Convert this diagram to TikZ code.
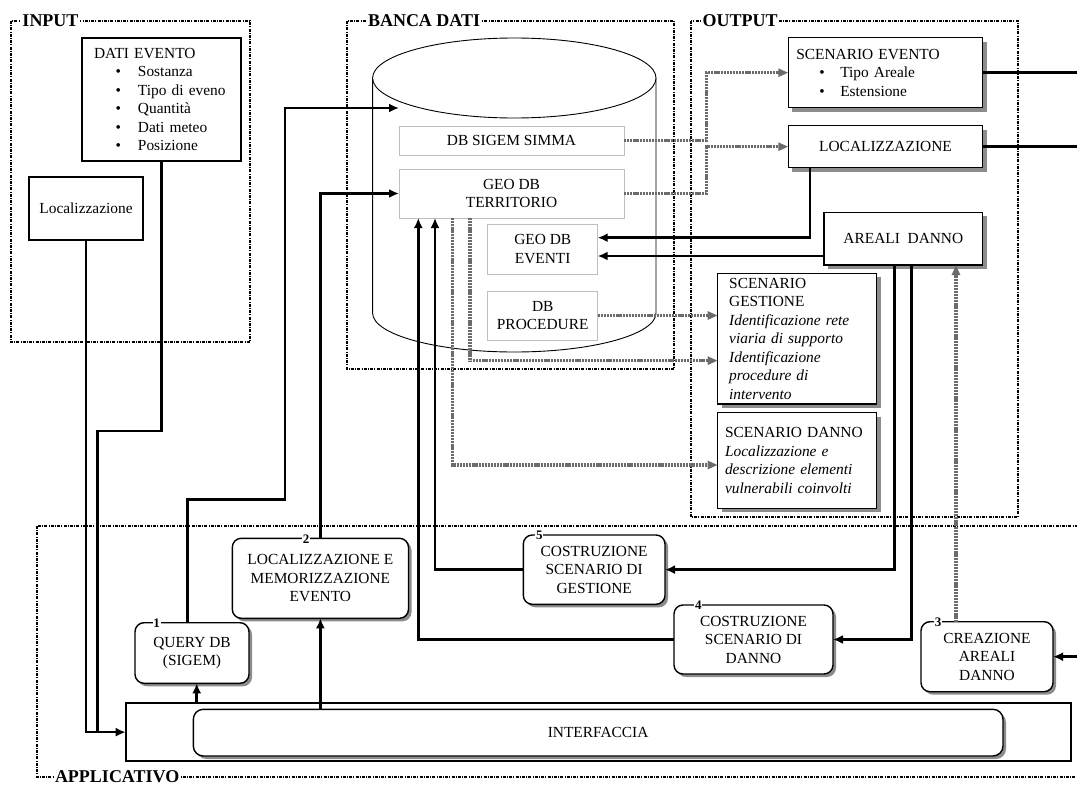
\documentclass[tikz,border=0pt]{standalone}
\usepackage{fontspec}
\setmainfont{Liberation Serif}
\usetikzlibrary{arrows.meta,shadows}
\begin{document}
\begin{tikzpicture}[x=1pt,y=-1pt,
  font=\fontsize{15.4}{18.5}\selectfont,
  every node/.style={outer sep=0pt},
  grp/.style={draw, line width=1.3pt, dash pattern=on 3pt off 1.2pt on 1pt off 1.2pt},
  gtitle/.style={fill=white, font=\fontsize{18}{20}\selectfont\bfseries, inner sep=1.5pt, anchor=west},
  plainbox/.style={draw, line width=1.2pt, fill=white},
  outbox/.style={draw, line width=1.4pt, fill=white, inner ysep=2pt,
    drop shadow={shadow xshift=4pt, shadow yshift=-4pt, fill=black!45, opacity=1}},
  dbbox/.style={draw=black!25, line width=0.9pt, fill=white, align=center},
  procbox/.style={draw, line width=1.4pt, fill=white, rounded corners=9pt, align=center,
    drop shadow={shadow xshift=3pt, shadow yshift=-3pt, fill=black!45, opacity=1}},
  num/.style={fill=white, font=\fontsize{13}{13}\selectfont\bfseries, inner sep=0.8pt},
  conn/.style={line width=2.6pt, -{Latex[length=10pt,width=9pt]}},
  wire/.style={line width=2.6pt},
  dotarrow/.style={draw=black!58, line width=3.2pt, dash pattern=on 2.2pt off 0.9pt,
    -{Triangle[length=10pt,width=8pt]}}
]
\useasboundingbox (0,0) rectangle (1077,787);
\clip (0,0) rectangle (1077,787);

% group frames
\draw[grp] (11,21) rectangle (250,342);
\draw[grp] (347,21) rectangle (674,369);
\draw[grp] (691,21) rectangle (1018,517);
\draw[grp] (37,526) rectangle (1100,777);

% cylinder
\draw[line width=0.9pt, fill=white] (372.6,78) -- (372.6,313)
  arc[start angle=180, end angle=0, x radius=141.7, y radius=39] -- (656,78);
\draw[line width=0.9pt, fill=white] (514.3,78) ellipse [x radius=141.7, y radius=40];
\coordinate (cyl) at (399,108);

% INPUT
\node[plainbox, text width=135pt, inner xsep=12pt, minimum height=123pt, align=left] (dati) at (161.5,99.5)
 {DATI EVENTO\\
  \hspace*{21.5pt}\makebox[22.5pt][l]{\textbullet}Sostanza\\
  \hspace*{21.5pt}\makebox[22.5pt][l]{\textbullet}Tipo di eveno\\
  \hspace*{21.5pt}\makebox[22.5pt][l]{\textbullet}Quantità\\
  \hspace*{21.5pt}\makebox[22.5pt][l]{\textbullet}Dati meteo\\
  \hspace*{21.5pt}\makebox[22.5pt][l]{\textbullet}Posizione};
\node[plainbox, minimum width=114pt, minimum height=63pt] (locin) at (86,208.5) {Localizzazione};

% BANCA DATI
\node[dbbox, minimum width=225pt, minimum height=29pt] (sigem) at (511.5,140.5) {DB SIGEM SIMMA};
\node[dbbox, minimum width=225pt, minimum height=49pt] (geoterr) at (511.5,193.5) {GEO DB\\TERRITORIO};
\node[dbbox, minimum width=110pt, minimum height=50pt] (geoev) at (542.7,249.2) {GEO DB\\EVENTI};
\node[dbbox, minimum width=110pt, minimum height=49pt] (dbproc) at (542.7,315.5) {DB\\PROCEDURE};

% OUTPUT
\node[outbox, text width=178.4pt, inner xsep=8pt, minimum height=70pt, align=left] (scev) at (885.5,72.7)
 {SCENARIO EVENTO\\
  \hspace*{23pt}\makebox[21pt][l]{\textbullet}Tipo Areale\\
  \hspace*{23pt}\makebox[21pt][l]{\textbullet}Estensione};
\node[outbox, minimum width=194.4pt, minimum height=42pt] (oloc) at (885.5,146.7) {LOCALIZZAZIONE};
\node[outbox, minimum width=158.7pt, minimum height=52.7pt] (areali) at (903.35,238.65) {AREALI\ \ DANNO};
\node[outbox, text width=136pt, inner xsep=11.5pt, minimum height=130.7pt, align=left] (scgest) at (797.2,338.65)
 {SCENARIO\\GESTIONE\\\textit{Identificazione rete}\\\textit{viaria di supporto}\\\textit{Identificazione}\\\textit{procedure di}\\\textit{intervento}};
\node[outbox, text width=144.4pt, inner xsep=7.3pt, minimum height=95.6pt, align=left] (scdanno) at (797.2,460.5)
 {SCENARIO DANNO\\\textit{Localizzazione e}\\\textit{descrizione elementi}\\\textit{vulnerabili coinvolti}};

% APPLICATIVO
\node[procbox, minimum width=114pt, minimum height=60.6pt] (q1) at (192,653) {QUERY DB\\(SIGEM)};
\node[procbox, minimum width=176.2pt, minimum height=80pt] (loc2) at (320.4,578.3) {LOCALIZZAZIONE E\\MEMORIZZAZIONE\\EVENTO};
\node[procbox, minimum width=141.7pt, minimum height=69.3pt] (c5) at (594.15,569.65) {COSTRUZIONE\\SCENARIO DI\\GESTIONE};
\node[procbox, minimum width=159pt, minimum height=69pt] (c4) at (753.5,639.5) {COSTRUZIONE\\SCENARIO DI\\DANNO};
\node[procbox, minimum width=132pt, minimum height=70pt] (c3) at (987,656.7) {CREAZIONE\\AREALI\\DANNO};
\node[draw, line width=1.8pt, fill=white, minimum width=945.3pt, minimum height=57.7pt] (intout) at (598.35,732.15) {};
\node[procbox, rounded corners=10pt, minimum width=809.7pt, minimum height=46.7pt] (intin) at (598.15,732.65) {INTERFACCIA};

\node[num] (n1) at (156.7,623.5) {1};
\node[num] (n2) at (306,539) {2};
\node[num] (n5) at (539.3,535.7) {5};
\node[num] (n4) at (698.3,605.7) {4};
\node[num] (n3) at (938,622.4) {3};

% titles
\node[gtitle] (tin) at (21,21) {INPUT};
\node[gtitle] (tbd) at (366.5,21) {BANCA DATI};
\node[gtitle] (tout) at (701,21) {OUTPUT};
\node[gtitle] (tapp) at (53.5,777) {APPLICATIVO};

% black connectors
\coordinate (j1) at (97.5,732.15);
\draw[conn] (locin.south) |- (intout.west);
\draw[wire] (dati.south) |- (97.5,431) -- (j1);
\draw[conn] ([xshift=-4.3pt]q1.north) |- (285,499.3) |- (cyl);
\draw[conn] (loc2.north) |- (geoterr.west);
\coordinate (a1) at (196.7,703.3);
\draw[conn] (a1) -- (a1 |- q1.south);
\draw[conn] (intin.north -| loc2.south) -- (loc2.south);
\draw[conn] (c5.west) -| ([xshift=-76.5pt]geoterr.south);
\draw[conn] (c4.west) -| ([xshift=-93.2pt]geoterr.south);
\draw[conn] ([xshift=-9pt]areali.south) |- (c5.east);
\draw[conn] ([xshift=8.4pt]areali.south) |- (c4.east);
\draw[conn] ([xshift=-75.5pt]oloc.south) |- ([yshift=11.5pt]geoev.east);
\draw[conn] ([yshift=-17.35pt]areali.west) -- ([yshift=-6.8pt]geoev.east);
\coordinate (e1) at (1090,72.7);
\coordinate (e2) at (1090,146.7);
\coordinate (e3) at (1090,656.7);
\draw[wire] (scev.east) -- (e1);
\draw[wire] (oloc.east) -- (e2);
\draw[conn] (e3) -- (c3.east);

% grey dotted connectors
\draw[dotarrow] (sigem.east) -- ++(82.2,0) |- (scev.west);
\draw[dotarrow] (geoterr.east) -- ++(82.2,0) |- (oloc.west);
\draw[dotarrow] (dbproc.east) -- (dbproc.east -| scgest.west);
\draw[dotarrow] ([xshift=-41.5pt]geoterr.south) |- ([yshift=-22pt]scgest.west);
\draw[dotarrow] ([xshift=-58.8pt]geoterr.south) |- ([yshift=-4.5pt]scdanno.west);
\draw[dotarrow] ([xshift=-31pt]c3.north) -- ([xshift=-31pt]c3.north |- areali.south);
\end{tikzpicture}
\end{document}
